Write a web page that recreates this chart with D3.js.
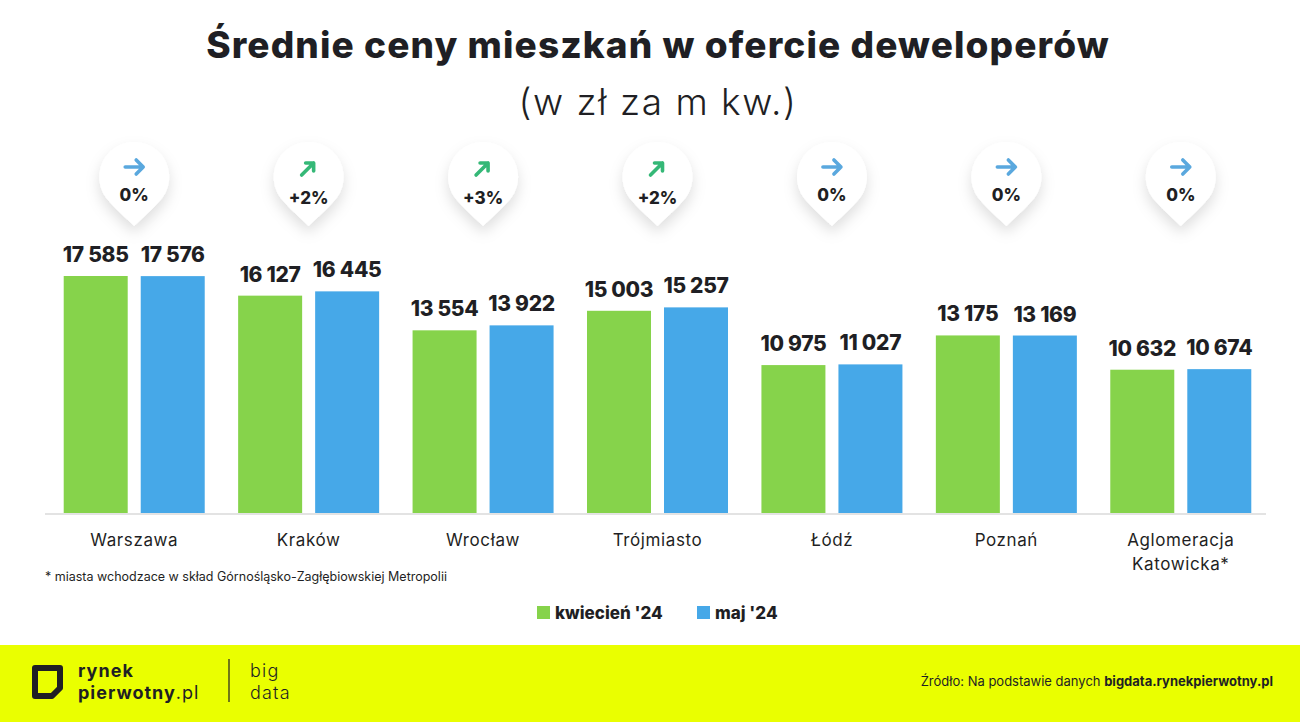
<!DOCTYPE html>
<html>
<head>
<meta charset="utf-8">
<script src="https://cdn.jsdelivr.net/npm/d3@7"></script>
<style>
  body { margin: 0; background: #fff; }
  svg { display: block; font-family: "Inter", "Noto Sans", sans-serif; }
</style>
</head>
<body>
<svg id="chart" width="1300" height="722"></svg>
<script>
// data
const cities = ["Warszawa", "Kraków", "Wrocław", "Trójmiasto", "Łódź", "Poznań", "Aglomeracja Katowicka*"];
const april = [17585, 16127, 13554, 15003, 10975, 13175, 10632];
const may = [17576, 16445, 13922, 15257, 11027, 13169, 10674];
const changes = ["0%", "+2%", "+3%", "+2%", "0%", "0%", "0%"];
const seriesNames = ["kwiecień '24", "maj '24"];
const colors = ["#86d34b", "#46a8e8"];

const svg = d3.select("#chart");
const ink = "#1f1f24";
const fmt = v => d3.format(",")(v).replace(/,/g, " ");

// drop shadow for the badges
const defs = svg.append("defs");
const f = defs.append("filter").attr("id", "shadow")
  .attr("x", "-60%").attr("y", "-60%").attr("width", "220%").attr("height", "220%");
f.append("feDropShadow").attr("dx", 0).attr("dy", 7).attr("stdDeviation", 7)
  .attr("flood-color", "#000").attr("flood-opacity", 0.13);

// title
svg.append("text").attr("x", 658).attr("y", 58).attr("text-anchor", "middle")
  .attr("font-size", 37).attr("font-weight", 800).attr("fill", ink)
  .attr("letter-spacing", 1.1)
  .text("Średnie ceny mieszkań w ofercie deweloperów");
svg.append("text").attr("x", 658).attr("y", 115).attr("text-anchor", "middle")
  .attr("font-size", 37).attr("font-weight", 300).attr("fill", ink)
  .attr("letter-spacing", 1.5)
  .text("(w zł za m kw.)");

// scales
const x = d3.scaleBand().domain(cities).range([47, 1268]).padding(0);
const xSub = d3.scaleBand().domain([0, 1]).range([0, x.bandwidth()])
  .paddingInner(0.169).paddingOuter(0.217);
const y = d3.scaleLinear().domain([0, 17585]).range([513, 276]);

const rows = cities.map((c, i) => ({ city: c, vals: [april[i], may[i]], change: changes[i] }));

// baseline
svg.append("line").attr("x1", 45).attr("x2", 1266).attr("y1", y(0) + 1).attr("y2", y(0) + 1)
  .attr("stroke", "#e3e3e3").attr("stroke-width", 2);

const g = svg.append("g").selectAll("g.group").data(rows).join("g")
  .attr("class", "group")
  .attr("transform", d => `translate(${x(d.city)},0)`);

g.selectAll("rect").data(d => d.vals).join("rect")
  .attr("x", (v, i) => xSub(i))
  .attr("width", xSub.bandwidth())
  .attr("y", v => y(v))
  .attr("height", v => y(0) - y(v))
  .attr("fill", (v, i) => colors[i]);

g.selectAll("text.val").data(d => d.vals).join("text")
  .attr("class", "val")
  .attr("x", (v, i) => xSub(i) + xSub.bandwidth() / 2)
  .attr("y", v => y(v) - 14)
  .attr("text-anchor", "middle")
  .attr("font-size", 21).attr("font-weight", 800).attr("fill", ink)
  .attr("letter-spacing", -0.3)
  .text(v => fmt(v));

// category labels
g.append("text").attr("class", "cat")
  .attr("x", x.bandwidth() / 2).attr("y", 546)
  .attr("text-anchor", "middle").attr("font-size", 17).attr("fill", ink)
  .attr("letter-spacing", 0.6)
  .each(function(d) {
    const words = d.city.split(" ");
    const t = d3.select(this);
    words.forEach((w, k) => t.append("tspan").attr("x", x.bandwidth() / 2)
      .attr("dy", k === 0 ? 0 : 24).text(w));
  });

// badges
const badgePath = "M0,46 C-6,40 -20,28 -28,18 A35,35 0 1 1 28,18 C20,28 6,40 0,46 Z";
const badge = g.append("g").attr("transform", `translate(${x.bandwidth() / 2},180)`);
badge.append("path").attr("d", badgePath).attr("fill", "#fff").attr("filter", "url(#shadow)");
badge.each(function(d) {
  const b = d3.select(this);
  const up = d.change.startsWith("+");
  if (up) {
    b.append("path").attr("d", "M-7,-5 L5,-17 M-3,-17 L5,-17 L5,-9")
      .attr("fill", "none").attr("stroke", "#35b877").attr("stroke-width", 3.6)
      .attr("stroke-linecap", "round").attr("stroke-linejoin", "round");
  } else {
    b.append("path").attr("d", "M-9,-13 L9,-13 M2,-20 L9,-13 L2,-6")
      .attr("fill", "none").attr("stroke", "#5aa8de").attr("stroke-width", 3.6)
      .attr("stroke-linecap", "round").attr("stroke-linejoin", "round");
  }
  b.append("text").attr("x", 0).attr("y", up ? 24 : 21)
    .attr("text-anchor", "middle").attr("font-size", 17).attr("font-weight", 800)
    .attr("fill", ink).text(d.change);
});

// footnote
svg.append("text").attr("x", 45).attr("y", 581).attr("font-size", 12.5).attr("fill", ink)
  .text("* miasta wchodzace w skład Górnośląsko-Zagłębiowskiej Metropolii");

// legend
const legX = [537, 697];
const leg = svg.append("g").selectAll("g").data(seriesNames).join("g")
  .attr("transform", (d, i) => `translate(${legX[i]},606)`);
leg.append("rect").attr("width", 13).attr("height", 13).attr("fill", (d, i) => colors[i]);
leg.append("text").attr("x", 18).attr("y", 12.5).attr("font-size", 17).attr("font-weight", 800)
  .attr("fill", ink).text(d => d);

// footer band
svg.append("rect").attr("x", 0).attr("y", 645).attr("width", 1300).attr("height", 77).attr("fill", "#eaff00");
svg.append("path")
  .attr("d", "M35,668 L60,668 L60,688 L52,696 L35,696 Z")
  .attr("fill", "none").attr("stroke", ink).attr("stroke-width", 6).attr("stroke-linejoin", "round");
const logo = svg.append("text").attr("x", 78).attr("y", 677).attr("font-size", 18)
  .attr("fill", ink).attr("letter-spacing", 1);
logo.append("tspan").attr("font-weight", 700).text("rynek");
logo.append("tspan").attr("x", 78).attr("dy", 22).attr("font-weight", 700).text("pierwotny");
logo.append("tspan").attr("font-weight", 400).text(".pl");
svg.append("line").attr("x1", 229).attr("x2", 229).attr("y1", 659).attr("y2", 702)
  .attr("stroke", ink).attr("stroke-width", 1.2);
const bd = svg.append("text").attr("x", 250).attr("y", 677).attr("font-size", 18)
  .attr("font-weight", 300).attr("fill", ink).attr("letter-spacing", 1.2);
bd.append("tspan").text("big");
bd.append("tspan").attr("x", 250).attr("dy", 22).text("data");

const src = svg.append("text").attr("x", 1273).attr("y", 686).attr("text-anchor", "end")
  .attr("font-size", 13).attr("fill", ink);
src.append("tspan").text("Źródło: Na podstawie danych ");
src.append("tspan").attr("font-weight", 700).text("bigdata.rynekpierwotny.pl");
</script>
</body>
</html>
